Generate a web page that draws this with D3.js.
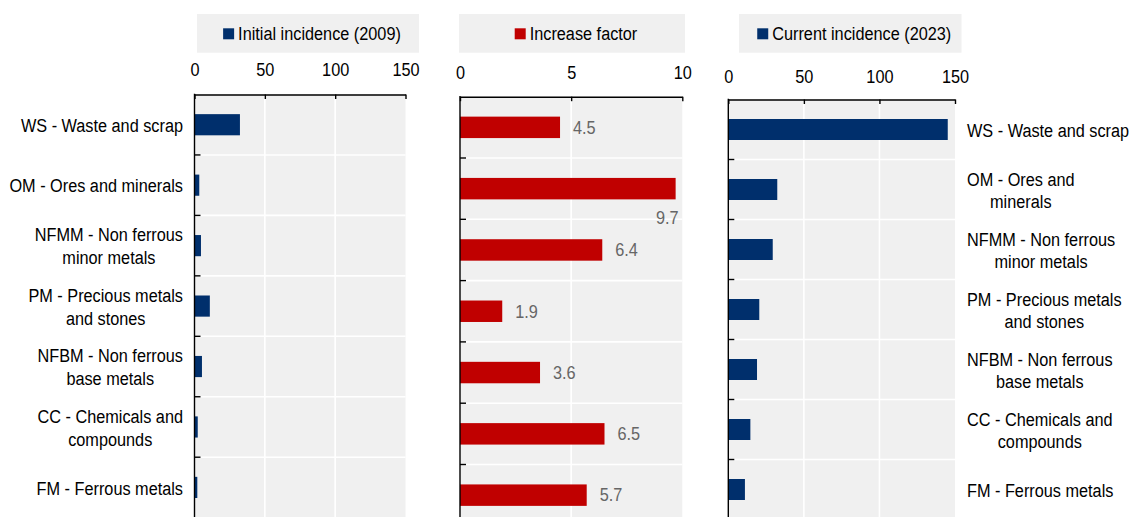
<!DOCTYPE html>
<html>
<head>
<meta charset="utf-8">
<script src="https://cdn.jsdelivr.net/npm/d3@7"></script>
<style>
  body { margin: 0; background: #fff; }
  svg { display: block; }
  text { font-family: "Liberation Sans", Arial, Helvetica, sans-serif; }
</style>
</head>
<body>
<svg id="chart" width="1133" height="517"></svg>
<script>
// ---- data ----
const categories = ["WS", "OM", "NFMM", "PM", "NFBM", "CC", "FM"];
const leftLabels = [
  ["WS - Waste and scrap"],
  ["OM - Ores and minerals"],
  ["NFMM - Non ferrous", "minor metals"],
  ["PM - Precious metals", "and stones"],
  ["NFBM - Non ferrous", "base metals"],
  ["CC - Chemicals and", "compounds"],
  ["FM - Ferrous metals"]
];
const rightLabels = [
  ["WS - Waste and scrap"],
  ["OM - Ores and", "minerals"],
  ["NFMM - Non ferrous", "minor metals"],
  ["PM - Precious metals", "and stones"],
  ["NFBM - Non ferrous", "base metals"],
  ["CC - Chemicals and", "compounds"],
  ["FM - Ferrous metals"]
];
const initialIncidence = [32.3, 3.4, 4.6, 10.9, 5.3, 2.3, 2.0];
const increaseFactor   = [4.5, 9.7, 6.4, 1.9, 3.6, 6.5, 5.7];
const currentIncidence = [145.2, 32.4, 29.4, 20.5, 19.0, 14.6, 11.0];
const incidenceTicks = [0, 50, 100, 150];
const factorTicks = [0, 5, 10];
const seriesNames = ["Initial incidence (2009)", "Increase factor", "Current incidence (2023)"];

// ---- style ----
const NAVY = "#002F6C";
const RED = "#C00000";
const PANEL_BG = "#f0f0f0";
const FONT_SIZE = 17.6;
const SQUEEZE = 0.925;

const svg = d3.select("#chart");

function addText(g, x, y, str, anchor, color) {
  return g.append("text")
    .attr("transform", `translate(${x},${y}) scale(${SQUEEZE},1)`)
    .attr("text-anchor", anchor || "start")
    .attr("font-size", FONT_SIZE)
    .attr("fill", color || "#000")
    .text(str);
}

const panels = [
  { values: initialIncidence, ticks: incidenceTicks, max: 150, color: NAVY, name: seriesNames[0],
    x0: 194.5, x1: 405.5, top: 94.5, step: 60.45, tickBase: 76,
    legend: { x0: 197, x1: 419 }, labels: leftLabels, labelSide: "left", lineGap: 23 },
  { values: increaseFactor, ticks: factorTicks, max: 10, color: RED, name: seriesNames[1],
    x0: 460, x1: 682.3, top: 96.7, step: 61.3, tickBase: 79.3,
    legend: { x0: 459, x1: 685 }, valueLabels: true },
  { values: currentIncidence, ticks: incidenceTicks, max: 150, color: NAVY, name: seriesNames[2],
    x0: 728.3, x1: 955, top: 99.5, step: 60, tickBase: 83.3,
    legend: { x0: 739, x1: 961.5 }, labels: rightLabels, labelSide: "right", lineGap: 22 }
];

panels.forEach(p => {
  const g = svg.append("g");
  const n = categories.length;
  const bottom = p.top + p.step * n;

  const x = d3.scaleLinear().domain([0, p.max]).range([p.x0, p.x1]);
  const yCat = d3.scaleBand().domain(categories).range([p.top, bottom]).padding(0);
  const yBar = d3.scaleBand().domain(categories).range([p.top, bottom])
    .paddingInner(0.65).paddingOuter(0.325);

  // plot background
  g.append("rect")
    .attr("x", p.x0).attr("y", p.top)
    .attr("width", p.x1 - p.x0).attr("height", bottom - p.top)
    .attr("fill", PANEL_BG);

  // vertical grid
  g.selectAll(".vgrid").data(p.ticks.filter(t => t > 0 && t < p.max)).enter()
    .append("line")
    .attr("x1", d => x(d)).attr("x2", d => x(d))
    .attr("y1", p.top).attr("y2", bottom)
    .attr("stroke", "#fff").attr("stroke-width", 1.6);

  // horizontal grid at category boundaries
  g.selectAll(".hgrid").data(categories.slice(1)).enter()
    .append("line")
    .attr("x1", p.x0).attr("x2", p.x1)
    .attr("y1", d => yCat(d)).attr("y2", d => yCat(d))
    .attr("stroke", "#fff").attr("stroke-width", 1.6);

  // bars
  g.selectAll(".bar").data(p.values).enter()
    .append("rect")
    .attr("x", x(0))
    .attr("y", (d, i) => yBar(categories[i]))
    .attr("width", d => x(d) - x(0))
    .attr("height", yBar.bandwidth())
    .attr("fill", p.color);

  // top axis
  const axis = g.append("g")
    .attr("transform", `translate(0,${p.top})`)
    .call(d3.axisTop(x).tickValues(p.ticks).tickFormat(d3.format("d"))
      .tickSizeInner(-4.5).tickSizeOuter(0).tickPadding(p.top - p.tickBase));
  axis.select(".domain").attr("stroke", "#000").attr("stroke-width", 1.4);
  axis.selectAll(".tick line").attr("stroke", "#000").attr("stroke-width", 1.4);
  axis.selectAll(".tick text")
    .attr("font-size", FONT_SIZE)
    .attr("font-family", null)
    .attr("fill", "#000")
    .attr("transform", `scale(${SQUEEZE},1)`);

  // category axis line with inward ticks at boundaries
  g.append("line")
    .attr("x1", p.x0).attr("x2", p.x0)
    .attr("y1", p.top - 0.7).attr("y2", bottom)
    .attr("stroke", "#000").attr("stroke-width", 1.4);
  g.selectAll(".ctick").data(categories.slice(1)).enter()
    .append("line")
    .attr("x1", p.x0).attr("x2", p.x0 + 6)
    .attr("y1", d => yCat(d)).attr("y2", d => yCat(d))
    .attr("stroke", "#000").attr("stroke-width", 1.4);

  // legend
  const lg = g.append("g");
  lg.append("rect")
    .attr("x", p.legend.x0).attr("y", 14)
    .attr("width", p.legend.x1 - p.legend.x0).attr("height", 38.7)
    .attr("fill", PANEL_BG);
  const lt = addText(lg, 0, 40.3, p.name, "start", "#000");
  const tw = lt.node().getComputedTextLength() * SQUEEZE;
  const markerSize = 11;
  const contentW = markerSize + 4 + tw;
  const cx = (p.legend.x0 + p.legend.x1) / 2 + 4;
  const startX = cx - contentW / 2;
  lg.append("rect")
    .attr("x", startX).attr("y", 28.3)
    .attr("width", markerSize).attr("height", markerSize)
    .attr("fill", p.color);
  lt.attr("transform", `translate(${startX + markerSize + 4},40.3) scale(${SQUEEZE},1)`);

  // value labels
  if (p.valueLabels) {
    p.values.forEach((v, i) => {
      const yc = yBar(categories[i]) + yBar.bandwidth() / 2;
      const str = d3.format(".1f")(v);
      const t = addText(g, x(v) + 13, yc + 6.3, str, "start", "#666");
      const w = t.node().getComputedTextLength() * SQUEEZE;
      if (x(v) + 13 + w > p.x1) {
        // not enough room beyond the bar: tuck it under the bar end
        t.attr("text-anchor", "end")
         .attr("transform", `translate(${x(v) + 3},${yc + 35.5}) scale(${SQUEEZE},1)`);
      }
    });
  }

  // category labels
  if (p.labels) {
    p.labels.forEach((lines, i) => {
      const yc = yCat(categories[i]) + p.step / 2 + 1;
      const lgroup = g.append("g");
      const nodes = lines.map((s, k) => {
        const baseline = yc + 6.3 + (k - (lines.length - 1) / 2) * p.lineGap;
        return addText(lgroup, 0, baseline, s, "middle", "#000");
      });
      const maxW = d3.max(nodes, t => t.node().getComputedTextLength() * SQUEEZE);
      const centerX = p.labelSide === "left" ? p.x0 - 11.5 - maxW / 2 : p.x1 + 12 + maxW / 2;
      nodes.forEach((t, k) => {
        const baseline = yc + 6.3 + (k - (lines.length - 1) / 2) * p.lineGap;
        t.attr("transform", `translate(${centerX},${baseline}) scale(${SQUEEZE},1)`);
      });
    });
  }
});
</script>
</body>
</html>
